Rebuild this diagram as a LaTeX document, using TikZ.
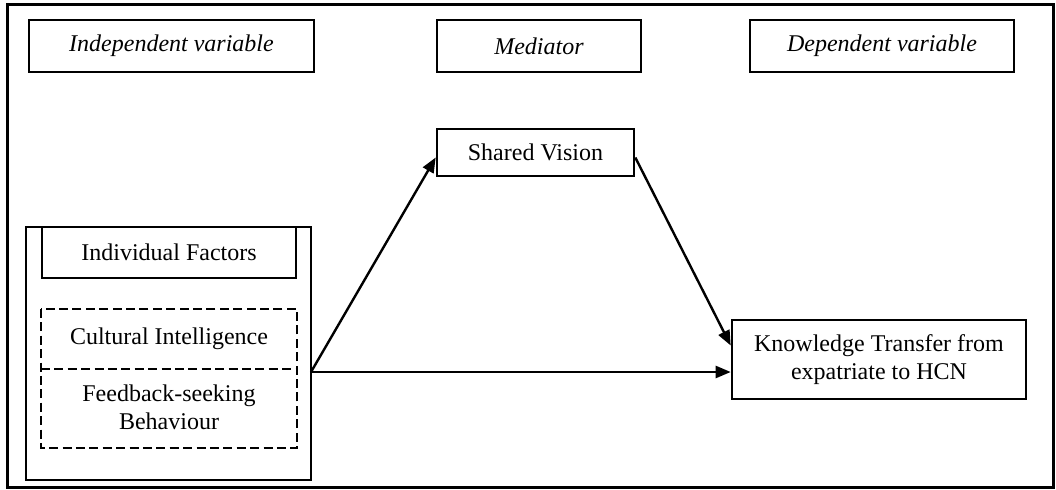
\documentclass[tikz,border=0pt]{standalone}
\usepackage{fontspec}
\setmainfont{Liberation Serif}
\usetikzlibrary{arrows.meta}
\begin{document}
\begin{tikzpicture}[x=0.5pt,y=-0.5pt,
  box/.style={draw,line width=1.1pt,rectangle,inner sep=0pt,align=center,font=\fontsize{12}{14}\selectfont},
  hdr/.style={box,font=\fontsize{12}{14}\selectfont\itshape},
  dsh/.style={line width=1.1pt,dash pattern=on 4.5pt off 2.2pt},
  arr/.style={line width=1.2pt,-{Triangle[length=7.5pt,width=6pt]}}]
\useasboundingbox (0,0) rectangle (1056,489);
\draw[line width=1.5pt] (7,4) rectangle (1053,487);
% headers
\node[hdr,minimum width=142.5pt,minimum height=26pt] (iv) at (171.5,46) {Independent variable};
\node[hdr,minimum width=102pt,minimum height=26pt] (med) at (539,46) {Mediator};
\node[hdr,minimum width=132pt,minimum height=26pt] (dv) at (882,46) {Dependent variable};
% left block
\node[box,line width=1.3pt,minimum width=142.5pt,minimum height=126.5pt] (indiv) at (168.5,353.5) {};
\node[box,minimum width=127pt,minimum height=25.5pt] (if) at (169,252.5) {Individual Factors};
\node[box,draw=none,minimum width=127pt,minimum height=29pt] (ci) at (169,339) {Cultural Intelligence};
\node[box,draw=none,minimum width=127pt,minimum height=39.5pt] (fb) at (169,407.5) {Feedback-seeking\\Behaviour};
\draw[dsh] (ci.north west) rectangle (fb.south east);
\draw[dsh] (ci.south west) -- (ci.south east);
% mediator and outcome
\node[box,line width=1.3pt,minimum width=98.5pt,minimum height=23.5pt] (sv) at (535.5,152.5) {Shared Vision};
\node[box,line width=1.3pt,minimum width=147pt,minimum height=39.5pt] (kt) at (879,359.5) {Knowledge Transfer from\\expatriate to HCN};
\coordinate (src) at (311,372);
\draw[arr] (src) -- ([yshift=-2.5pt]sv.west);
\draw[arr] ([yshift=-2.5pt]sv.east) -- ([yshift=7pt]kt.west);
\draw[arr] (src) -- (src -| kt.west);
\end{tikzpicture}
\end{document}
